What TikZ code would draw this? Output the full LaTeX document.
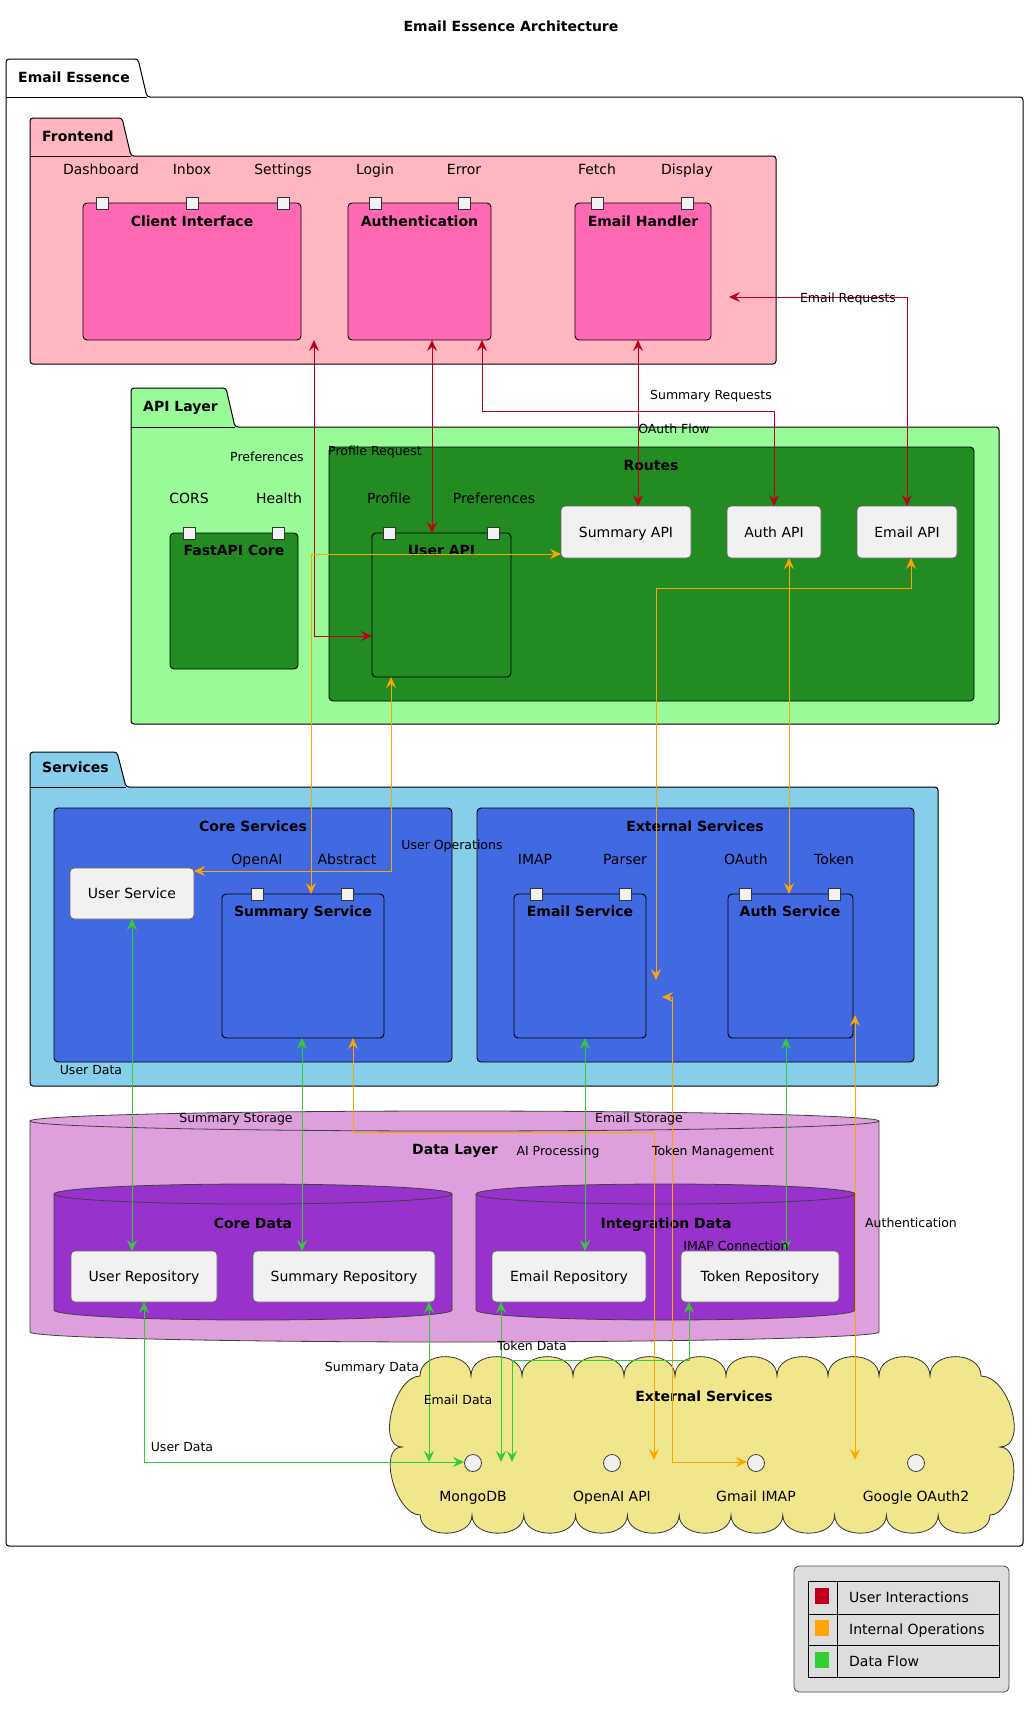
\documentclass[tikz,border=0pt]{standalone}
\usepackage{fontspec}
\setmainfont{DejaVu Sans}
\usetikzlibrary{arrows.meta,calc}
\definecolor{ured}{RGB}{192,0,26}
\definecolor{iorange}{RGB}{255,165,0}
\definecolor{dgreen}{RGB}{50,205,50}
\definecolor{fpink}{HTML}{FFB6C1}
\definecolor{hpink}{HTML}{FF69B4}
\definecolor{pgreen}{HTML}{98FB98}
\definecolor{fgreen}{HTML}{228B22}
\definecolor{skyb}{HTML}{87CEEB}
\definecolor{rblue}{HTML}{4169E1}
\definecolor{plumc}{HTML}{DDA0DD}
\definecolor{orchidc}{HTML}{9932CC}
\definecolor{khakic}{HTML}{F0E68C}
\definecolor{boxgray}{HTML}{F1F1F1}
\definecolor{leggray}{HTML}{DDDDDD}
\newcommand\rbox[7]{%
  \pgfmathsetmacro\rbW{#4-#2}\pgfmathsetmacro\rbH{#5-#3}%
  \pgfmathsetmacro\rbX{(#2+#4)/2}\pgfmathsetmacro\rbY{(#3+#5)/2}%
  \node[#6, minimum width=\rbW pt, minimum height=\rbH pt] (#1) at (\rbX,\rbY) {#7};}
\newcommand\pkgshape[7]{%
  \draw[fill=#7, line width=1pt, rounded corners=3pt] (#1,#6) -- (#1,#2) -- (#3-9,#2) -- (#3,#4) -- (#5,#4) -- (#5,#6) -- cycle;
  \draw[line width=1pt] (#1,#4) -- (#3,#4);}
\newcommand\cylshape[6]{% x1, ytop(center of ellipse), x2, ybottom side, ry, fill
  \pgfmathsetmacro\cyR{(#3-#1)/2}%
  \draw[fill=#6, draw=black!75, line width=0.8pt] (#1,#2) -- (#1,#4) arc[start angle=180,end angle=360,x radius=\cyR pt,y radius=#5pt] -- (#3,#2) arc[start angle=0,end angle=180,x radius=\cyR pt,y radius=#5pt] -- cycle;
  \draw[draw=black!75, line width=0.8pt] (#1,#2) arc[start angle=180,end angle=360,x radius=\cyR pt,y radius=#5pt];}
\begin{document}
\begin{tikzpicture}[x=1pt,y=-1pt,
  lbl/.style={font=\fontsize{14}{16}\selectfont, inner sep=0pt, text height=10.5pt, text depth=3pt, yshift=-2pt},
  ttl/.style={font=\fontsize{14}{16}\selectfont\bfseries, inner sep=0pt, text height=10.5pt, text depth=3pt, yshift=-2pt},
  alab/.style={font=\fontsize{12.5}{14}\selectfont, inner sep=0pt, text height=9.5pt, text depth=2.5pt, yshift=-2pt},
  comp/.style={draw=black, line width=0.9pt, rounded corners=4pt, inner sep=0pt},
  grp/.style={draw=black, line width=0.9pt, rounded corners=4pt, inner sep=0pt},
  plainbox/.style={draw=black!60, fill=boxgray, line width=0.8pt, rounded corners=4pt, inner sep=0pt, text height=10pt, text depth=0pt, font=\fontsize{14}{16}\selectfont},
  port/.style={draw=black!80, fill=boxgray, line width=0.8pt, minimum size=12pt, inner sep=0pt},
  iface/.style={circle, draw=black!75, fill=boxgray, line width=0.8pt, minimum size=17pt, inner sep=0pt},
  conn/.style={line width=1pt, {Stealth[length=11pt,width=10pt,inset=4pt]}-{Stealth[length=11pt,width=10pt,inset=4pt]}},
  uarr/.style={conn, draw=ured},
  oarr/.style={conn, draw=iorange},
  garr/.style={conn, draw=dgreen}
]
\useasboundingbox (0,0) rectangle (1033,1711);
\fill[white] (0,0) rectangle (1033,1711);

\node[ttl] (title) at (511,26) {Email Essence Architecture};

% ---------- packages ----------
\pkgshape{6}{59}{147}{97}{1023}{1546}{white}
\node[ttl, anchor=west] (pkg-ee) at (18,77) {Email Essence};
\pkgshape{30}{118}{131}{156}{776}{364}{fpink}
\node[ttl, anchor=west] (pkg-fe) at (42,136) {Frontend};
\pkgshape{131}{388}{235}{427}{999}{724}{pgreen}
\node[ttl, anchor=west] (pkg-api) at (143,406) {API Layer};
\pkgshape{30}{752}{126}{787}{938}{1086}{skyb}
\node[ttl, anchor=west] (pkg-svc) at (42,767) {Services};

% ---------- Frontend ----------
\rbox{ci}{83}{203}{301}{340}{comp,fill=hpink}{}
\rbox{auth}{348}{203}{491}{340}{comp,fill=hpink}{}
\rbox{eh}{575}{203}{711}{340}{comp,fill=hpink}{}
\node[ttl] at (192,221) {Client Interface};
\node[ttl] at (419.5,221) {Authentication};
\node[ttl] at (643,221) {Email Handler};
\foreach \px/\nm in {102/ci1,192/ci2,283/ci3,375/au1,464/au2,597/eh1,687/eh2}{\node[port] (p-\nm) at (\px,203) {};}
\node[lbl] (l-dash) at (101,169) {Dashboard};
\node[lbl] (l-inbox) at (192,169) {Inbox};
\node[lbl] (l-set) at (283,169) {Settings};
\node[lbl] (l-login) at (375,169) {Login};
\node[lbl] (l-err) at (464,169) {Error};
\node[lbl] (l-fetch) at (597,169) {Fetch};
\node[lbl] (l-disp) at (687,169) {Display};

% ---------- API Layer ----------
\rbox{routes}{329}{447}{974}{701}{grp,fill=fgreen}{}
\node[ttl] at (651,465) {Routes};
\rbox{fac}{170}{533}{298}{669}{comp,fill=fgreen}{}
\node[ttl] at (234,550) {FastAPI Core};
\rbox{uapi}{372}{533}{511}{677}{comp,fill=fgreen}{}
\node[ttl] at (441.5,550) {User API};
\foreach \px/\nm in {189/fa1,278/fa2,389/ua1,493/ua2}{\node[port] (p-\nm) at (\px,533) {};}
\node[lbl] (l-cors) at (189,498) {CORS};
\node[lbl] (l-health) at (279,498) {Health};
\node[lbl] (l-prof) at (389,498) {Profile};
\node[lbl] (l-pref) at (494,498) {Preferences};
\rbox{sapi}{561}{506}{691}{558}{plainbox}{Summary API}
\rbox{aapi}{727}{506}{821}{558}{plainbox}{Auth API}
\rbox{eapi}{857}{506}{957}{558}{plainbox}{Email API}

% ---------- Services ----------
\rbox{cores}{54}{808}{452}{1062}{grp,fill=rblue}{}
\node[ttl] at (253,826) {Core Services};
\rbox{exts}{477}{808}{914}{1062}{grp,fill=rblue}{}
\node[ttl] at (695,826) {External Services};
\rbox{usvc}{70}{868}{194}{919}{plainbox}{User Service}
\rbox{ssvc}{222}{894}{384}{1038}{comp,fill=rblue}{}
\node[ttl] at (303,911) {Summary Service};
\rbox{esvc}{514}{894}{646}{1038}{comp,fill=rblue}{}
\node[ttl] at (580,911) {Email Service};
\rbox{asvc}{728}{894}{853}{1038}{comp,fill=rblue}{}
\node[ttl] at (790,911) {Auth Service};
\foreach \px/\nm in {257/ss1,347/ss2,536/es1,625/es2,745/as1,834/as2}{\node[port] (p-\nm) at (\px,894) {};}
\node[lbl] (l-openai) at (257,859) {OpenAI};
\node[lbl] (l-abs) at (347,859) {Abstract};
\node[lbl] (l-imap) at (535,859) {IMAP};
\node[lbl] (l-parser) at (625,859) {Parser};
\node[lbl] (l-oauth) at (746,859) {OAuth};
\node[lbl] (l-token) at (834,859) {Token};

% ---------- Data Layer ----------
\cylshape{30}{1121}{879}{1332}{10}{plumc}
\node[ttl] (dl) at (455,1149) {Data Layer};
\cylshape{54}{1194}{452}{1310}{10}{orchidc}
\node[ttl] (cd) at (253,1223) {Core Data};
\cylshape{476}{1194}{855}{1310}{10}{orchidc}
\node[ttl] (id) at (666,1223) {Integration Data};
\rbox{urepo}{71}{1251}{217}{1302}{plainbox}{User Repository}
\rbox{srepo}{253}{1251}{435}{1302}{plainbox}{Summary Repository}
\rbox{erepo}{492}{1251}{646}{1302}{plainbox}{Email Repository}
\rbox{trepo}{681}{1251}{839}{1302}{plainbox}{Token Repository}

% ---------- External cloud ----------
\draw[fill=khakic, draw=black!80, line width=0.8pt] (420,1376)
  \foreach \i in {1,...,11}{ to[out=90,in=90,looseness=1.3] ++(51,0) }
  to[out=0,in=0,looseness=1] (1000,1447)
  to[out=0,in=0,looseness=0.9] (990,1515)
  \foreach \i in {1,...,11}{ to[out=-90,in=-90,looseness=1.2] ++(-51.8,0) }
  to[out=180,in=180,looseness=0.9] (402,1447)
  to[out=180,in=180,looseness=0.9] (420,1376) -- cycle;
\node[ttl] (cloudt) at (704,1396) {External Services};
\node[iface] (mongo) at (473,1463) {};
\node[iface] (oai) at (612,1463) {};
\node[iface] (gimap) at (756,1463) {};
\node[iface] (goa) at (916,1463) {};
\node[lbl] at (473,1496) {MongoDB};
\node[lbl] at (612,1496) {OpenAI API};
\node[lbl] at (756,1496) {Gmail IMAP};
\node[lbl] at (916,1496) {Google OAuth2};

% ---------- connector end points ----------
\coordinate (r1a) at (907,506); \coordinate (r1b) at (729,297);
\coordinate (r2a) at (638,340); \coordinate (r2b) at (638,506);
\coordinate (r3a) at (482,340); \coordinate (r3b) at (774,506);
\coordinate (r4a) at (432,340); \coordinate (r4b) at (432,533);
\coordinate (r5a) at (314,340); \coordinate (r5b) at (372,636);
\coordinate (o1a) at (561,554); \coordinate (o1b) at (311,894);
\coordinate (o2a) at (391,677); \coordinate (o2b) at (194,871);
\coordinate (o3a) at (911,558); \coordinate (o3b) at (656,980);
\coordinate (o4a) at (789,558); \coordinate (o4b) at (789,894);
\coordinate (o5a) at (353,1038); \coordinate (o5b) at (654,1460);
\coordinate (o6a) at (662,997); \coordinate (o6b) at (747,1462);
\coordinate (o7a) at (855,1015); \coordinate (o7b) at (855,1460);
\coordinate (g1a) at (132,919); \coordinate (g1b) at (132,1251);
\coordinate (g2a) at (302,1038); \coordinate (g2b) at (302,1251);
\coordinate (g3a) at (585,1038); \coordinate (g3b) at (585,1251);
\coordinate (g4a) at (786,1038); \coordinate (g4b) at (786,1251);
\coordinate (g5a) at (144,1302); \coordinate (g5b) at (464,1462);
\coordinate (g6a) at (429,1302); \coordinate (g6b) at (429,1462);
\coordinate (g7a) at (501,1302); \coordinate (g7b) at (501,1462);
\coordinate (g8a) at (689,1302); \coordinate (g8b) at (512,1462);

% ---------- connectors ----------
\draw[uarr] (r1a) |- (r1b);
\draw[uarr] (r2a) -- (r2b);
\draw[uarr] (r3a) -- (482,411) -| (r3b);
\draw[uarr] (r4a) -- (r4b);
\draw[uarr] (r5a) |- (r5b);
\draw[oarr] (o1a) -| (o1b);
\draw[oarr] (o2a) |- (o2b);
\draw[oarr] (o3a) -- (911,588) -| (o3b);
\draw[oarr] (o4a) -- (o4b);
\draw[oarr] (o5a) -- (353,1132) -| (o5b);
\draw[oarr] (o6a) -- (672,997) |- (o6b);
\draw[oarr] (o7a) -- (o7b);
\draw[garr] (g1a) -- (g1b);
\draw[garr] (g2a) -- (g2b);
\draw[garr] (g3a) -- (g3b);
\draw[garr] (g4a) -- (g4b);
\draw[garr] (g5a) |- (g5b);
\draw[garr] (g6a) -- (g6b);
\draw[garr] (g7a) -- (g7b);
\draw[garr] (g8a) -- (689,1360) -| (g8b);

% ---------- connector labels ----------
\node[alab] at (848,297) {Email Requests};
\node[alab] at (711,394) {Summary Requests};
\node[alab] at (674,428) {OAuth Flow};
\node[alab] at (375,450) {Profile Request};
\node[alab] at (267,456) {Preferences};
\node[alab] at (452,844) {User Operations};
\node[alab] at (91,1069) {User Data};
\node[alab] at (236,1117) {Summary Storage};
\node[alab] at (639,1117) {Email Storage};
\node[alab] at (558,1150) {AI Processing};
\node[alab] at (713,1150) {Token Management};
\node[alab] at (736,1245) {IMAP Connection};
\node[alab] at (911,1222) {Authentication};
\node[alab] at (532,1345) {Token Data};
\node[alab] at (372,1366) {Summary Data};
\node[alab] at (458,1399) {Email Data};
\node[alab] at (182,1446) {User Data};

% ---------- legend ----------
\rbox{legend}{794}{1566}{1009}{1692}{draw=black!70, fill=leggray, rounded corners=5pt, line width=0.8pt, inner sep=0pt}{}
\draw[line width=0.8pt] (808,1581) rectangle (999,1677);
\draw[line width=0.8pt] (837,1581) -- (837,1677) (808,1614) -- (999,1614) (808,1645) -- (999,1645);
\fill[ured] (815,1588) rectangle (829,1604);
\fill[iorange] (815,1620) rectangle (829,1636);
\fill[dgreen] (815,1652) rectangle (829,1668);
\node[lbl, anchor=west] at (849,1597) {User Interactions};
\node[lbl, anchor=west] at (849,1629) {Internal Operations};
\node[lbl, anchor=west] at (849,1661) {Data Flow};
\end{tikzpicture}
\end{document}
